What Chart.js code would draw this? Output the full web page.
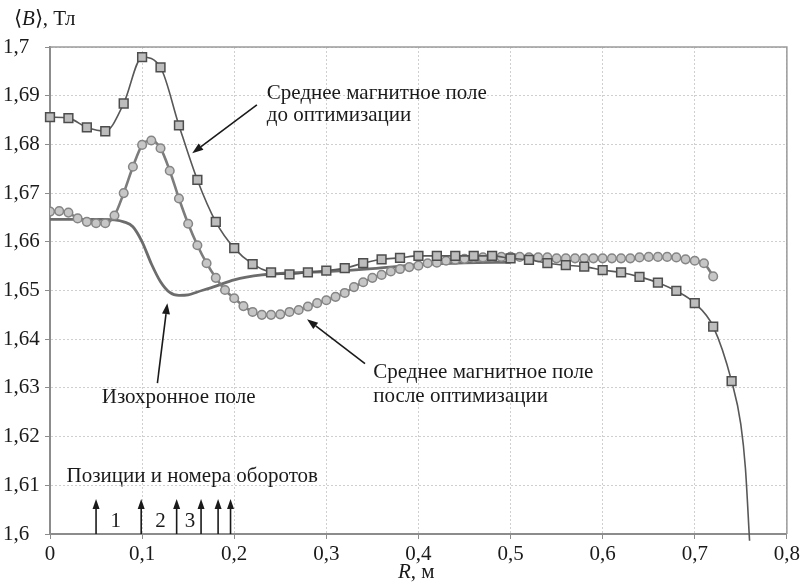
<!DOCTYPE html>
<html>
<head>
<meta charset="utf-8">
<script src="https://cdn.jsdelivr.net/npm/chart.js@4.4.1/dist/chart.umd.min.js"></script>
<style>
  html, body { margin: 0; padding: 0; background: #fff; }
  canvas { display: block; }
</style>
</head>
<body>
<canvas id="fieldChart" width="803" height="586"></canvas>
<script>
// ===============================
// DATA
// ===============================
// Mean field before optimisation (squares). R in m, <B> in T.
// The last three points only carry the curve down to the axis, no marker.
const beforeR = [0, 0.02, 0.04, 0.06, 0.08, 0.10, 0.12, 0.14, 0.16, 0.18,
  0.20, 0.22, 0.24, 0.26, 0.28, 0.30, 0.32, 0.34, 0.36, 0.38,
  0.40, 0.42, 0.44, 0.46, 0.48, 0.50, 0.52, 0.54, 0.56, 0.58,
  0.60, 0.62, 0.64, 0.66, 0.68, 0.70, 0.72, 0.74,
  0.75, 0.755, 0.7595];
const beforeB = [1.6856, 1.6854, 1.6835, 1.6827, 1.6884, 1.6979, 1.6958, 1.6839, 1.6727, 1.6641,
  1.6587, 1.6554, 1.6537, 1.6533, 1.6537, 1.6541, 1.6546, 1.6556, 1.6564, 1.6567,
  1.6571, 1.6571, 1.6571, 1.6571, 1.6571, 1.6566, 1.6563, 1.6556, 1.6552, 1.6549,
  1.6542, 1.6537, 1.6528, 1.6516, 1.6499, 1.6474, 1.6426, 1.6314,
  1.6225, 1.6135, 1.5986];
const beforeMarked = 38;

// Mean field after optimisation (circles)
const afterR = [0, 0.01, 0.02, 0.03, 0.04, 0.05, 0.06, 0.07, 0.08, 0.09,
  0.10, 0.11, 0.12, 0.13, 0.14, 0.15, 0.16, 0.17, 0.18, 0.19,
  0.20, 0.21, 0.22, 0.23, 0.24, 0.25, 0.26, 0.27, 0.28, 0.29,
  0.30, 0.31, 0.32, 0.33, 0.34, 0.35, 0.36, 0.37, 0.38, 0.39,
  0.40, 0.41, 0.42, 0.43, 0.44, 0.45, 0.46, 0.47, 0.48, 0.49,
  0.50, 0.51, 0.52, 0.53, 0.54, 0.55, 0.56, 0.57, 0.58, 0.59,
  0.60, 0.61, 0.62, 0.63, 0.64, 0.65, 0.66, 0.67, 0.68, 0.69,
  0.70, 0.71, 0.72];
const afterB = [1.6662, 1.6663, 1.6660, 1.6648, 1.6641, 1.6638, 1.6638, 1.6654, 1.6700, 1.6754,
  1.6799, 1.6808, 1.6792, 1.6746, 1.6689, 1.6637, 1.6593, 1.6556, 1.6526, 1.6501,
  1.6484, 1.6468, 1.6456, 1.6450, 1.6450, 1.6451, 1.6456, 1.6460, 1.6467, 1.6474,
  1.6480, 1.6487, 1.6495, 1.6507, 1.6517, 1.6526, 1.6532, 1.6539, 1.6544, 1.6548,
  1.6551, 1.6556, 1.6557, 1.6561, 1.6563, 1.6565, 1.6567, 1.6568, 1.6569, 1.6569,
  1.6569, 1.6569, 1.6568, 1.6568, 1.6568, 1.6566, 1.6566, 1.6566, 1.6566, 1.6566,
  1.6566, 1.6566, 1.6566, 1.6566, 1.6568, 1.6569, 1.6569, 1.6569, 1.6568, 1.6564,
  1.6561, 1.6556, 1.6529];

// Isochronous field (plain line)
const isoR = [0, 0.02, 0.04, 0.06, 0.07, 0.08, 0.09, 0.10, 0.11, 0.12,
  0.13, 0.14, 0.15, 0.16, 0.18, 0.20, 0.23, 0.26, 0.30, 0.35,
  0.40, 0.45, 0.50];
const isoB = [1.6646, 1.6646, 1.6646, 1.6646, 1.6645, 1.6641, 1.6631, 1.6600, 1.6555, 1.6518,
  1.6496, 1.6490, 1.6491, 1.6497, 1.6509, 1.6522, 1.6532, 1.6536, 1.6539, 1.6545,
  1.6553, 1.6557, 1.6558];

// Turn positions and numbers
const turnR = [0.050, 0.099, 0.1375, 0.164, 0.1825, 0.196];
const turnTop = 1.6072;
const turnNumbers = ["1", "2", "3"];
const turnNumberR = [0.0713, 0.120, 0.152];

// Axes
const xTicks = [0, 0.1, 0.2, 0.3, 0.4, 0.5, 0.6, 0.7, 0.8];
const yTicks = [1.6, 1.61, 1.62, 1.63, 1.64, 1.65, 1.66, 1.67, 1.68, 1.69, 1.7];

// ===============================
// HELPERS
// ===============================
const SERIF = "'Liberation Serif', 'Times New Roman', serif";
const INK = "#1a1a1a";

function points(rs, bs) {
  return rs.map((r, i) => ({ x: r, y: bs[i] }));
}

function commaLabel(v) {
  return String(Number(v.toFixed(2))).replace(".", ",");
}

function drawArrow(ctx, x1, y1, x2, y2, head, halfWidth) {
  const a = Math.atan2(y2 - y1, x2 - x1);
  const bx = x2 - head * Math.cos(a);
  const by = y2 - head * Math.sin(a);
  ctx.beginPath();
  ctx.moveTo(x1, y1);
  ctx.lineTo(bx, by);
  ctx.stroke();
  ctx.beginPath();
  ctx.moveTo(x2, y2);
  ctx.lineTo(bx + halfWidth * Math.sin(a), by - halfWidth * Math.cos(a));
  ctx.lineTo(bx - halfWidth * Math.sin(a), by + halfWidth * Math.cos(a));
  ctx.closePath();
  ctx.fill();
}

// Mixed italic / upright text run, returns end x
function drawRuns(ctx, runs, x, y, size) {
  runs.forEach(([text, italic]) => {
    ctx.font = (italic ? "italic " : "") + size + "px " + SERIF;
    ctx.fillText(text, x, y);
    x += ctx.measureText(text).width;
  });
  return x;
}

// ===============================
// PLOT FRAME (top and right edges)
// ===============================
const frame = {
  id: "frame",
  beforeDatasetsDraw(chart) {
    const { ctx, chartArea: a } = chart;
    ctx.save();
    ctx.strokeStyle = "#9a9a9a";
    ctx.lineWidth = 1.5;
    ctx.beginPath();
    ctx.moveTo(a.left, a.top);
    ctx.lineTo(a.right, a.top);
    ctx.lineTo(a.right, a.bottom);
    ctx.stroke();
    ctx.restore();
  }
};

// ===============================
// TEXT, ARROWS, AXIS TITLES
// ===============================
const notes = {
  id: "notes",
  afterDatasetsDraw(chart) {
    const { ctx, scales: { x, y } } = chart;
    const X = r => x.getPixelForValue(r);
    const Y = b => y.getPixelForValue(b);

    ctx.save();
    ctx.fillStyle = INK;
    ctx.strokeStyle = INK;
    ctx.lineWidth = 1.6;
    ctx.textBaseline = "alphabetic";
    ctx.textAlign = "left";
    ctx.font = "21px " + SERIF;

    // before optimisation
    ctx.fillText("Среднее магнитное поле", X(0.2354), Y(1.6893));
    ctx.fillText("до оптимизации", X(0.2354), Y(1.6848));
    drawArrow(ctx, X(0.2246), Y(1.6881), X(0.1544), Y(1.6782), 11, 4);

    // after optimisation
    ctx.fillText("Среднее магнитное поле", X(0.351), Y(1.6320));
    ctx.fillText("после оптимизации", X(0.351), Y(1.6271));
    drawArrow(ctx, X(0.342), Y(1.6350), X(0.279), Y(1.6441), 11, 4);

    // isochronous
    ctx.fillText("Изохронное поле", X(0.0562), Y(1.6269));
    drawArrow(ctx, X(0.1166), Y(1.6310), X(0.1274), Y(1.6474), 11, 4);

    // turns
    ctx.fillText("Позиции и номера оборотов", X(0.018), Y(1.6107));
    turnR.forEach(r => drawArrow(ctx, X(r), Y(1.6), X(r), Y(turnTop), 10, 3.5));
    ctx.textAlign = "center";
    turnNumbers.forEach((n, i) => ctx.fillText(n, X(turnNumberR[i]), Y(1.6014)));

    // axis titles
    ctx.textAlign = "left";
    drawRuns(ctx, [["\u27E8", false], ["B", true], ["\u27E9, Тл", false]], 14, 25, 21);
    drawRuns(ctx, [["R", true], [", м", false]], 398, 578, 21);
    ctx.restore();
  }
};

// ===============================
// CHART
// ===============================
new Chart(document.getElementById("fieldChart"), {
  type: "line",
  data: {
    datasets: [
      {
        label: "before",
        data: points(beforeR, beforeB),
        borderColor: "#585858",
        borderWidth: 1.6,
        cubicInterpolationMode: "monotone",
        pointStyle: "rect",
        pointRadius: c => (c.dataIndex < beforeMarked ? 6.2 : 0),
        pointBackgroundColor: "#bdbdbd",
        pointBorderColor: "#4d4d4d",
        pointBorderWidth: 1.5,
        clip: false
      },
      {
        label: "after",
        data: points(afterR, afterB),
        borderColor: "#7c7c7c",
        borderWidth: 2.6,
        cubicInterpolationMode: "monotone",
        pointStyle: "circle",
        pointRadius: 4.3,
        pointBackgroundColor: "#c6c6c6",
        pointBorderColor: "#858585",
        pointBorderWidth: 1.5
      },
      {
        label: "iso",
        data: points(isoR, isoB),
        borderColor: "#6c6c6c",
        borderWidth: 2.8,
        cubicInterpolationMode: "monotone",
        pointRadius: 0
      }
    ]
  },
  options: {
    responsive: false,
    animation: false,
    devicePixelRatio: 1,
    layout: { padding: { left: 3, top: 47, right: 12, bottom: 0 } },
    plugins: { legend: { display: false }, tooltip: { enabled: false } },
    scales: {
      x: {
        type: "linear",
        min: 0,
        max: 0.8,
        afterBuildTicks: s => { s.ticks = xTicks.map(v => ({ value: v })); },
        afterFit: s => { s.height = 52; },
        ticks: {
          autoSkip: false,
          maxRotation: 0,
          padding: 3,
          color: INK,
          font: { family: SERIF, size: 21 },
          callback: v => commaLabel(v)
        },
        grid: { color: "#cfcfcf", lineWidth: 1, tickLength: 5, tickColor: "#8c8c8c" },
        border: { color: "#8c8c8c", width: 2, dash: [2, 2] }
      },
      y: {
        min: 1.6,
        max: 1.7,
        afterBuildTicks: s => { s.ticks = yTicks.map(v => ({ value: v })); },
        afterFit: s => { s.width = 47; },
        ticks: {
          autoSkip: false,
          crossAlign: "far",
          padding: 3,
          color: INK,
          font: { family: SERIF, size: 21 },
          callback: v => commaLabel(v)
        },
        grid: { color: "#cfcfcf", lineWidth: 1, tickLength: 5, tickColor: "#8c8c8c" },
        border: { color: "#8c8c8c", width: 2, dash: [2, 2] }
      }
    }
  },
  plugins: [frame, notes]
});
</script>
</body>
</html>
